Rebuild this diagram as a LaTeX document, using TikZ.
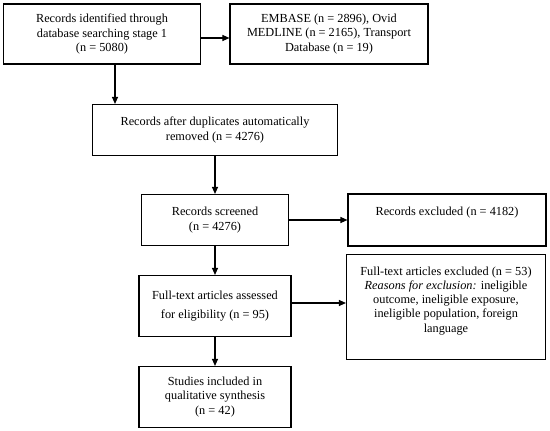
\documentclass[tikz,border=0pt]{standalone}
\usepackage{fontspec}
\setmainfont{Liberation Serif}
\usetikzlibrary{arrows.meta, positioning}
\tikzset{%
  >={Triangle[width=6pt,length=7pt]},
  % Specifications for style of nodes:
            base/.style = {rectangle, draw=black, align=center,
                           inner sep=3pt, text centered,
                           font=\fontsize{12.3}{14.3}\selectfont},
            sourceBox/.style = {base, minimum width=197pt, minimum height=60pt},
            stageBox/.style = {base, minimum width=152pt, minimum height=61pt},
            excludeBox/.style = {base, inner ysep=12pt},
 }

\begin{document}
\begin{tikzpicture}[node distance=90pt, line width=1.1pt]
  \useasboundingbox (-102pt,34pt) rectangle (448pt,-397pt);
  % Specification of nodes (position, etc.)
     \node (ident) [sourceBox] {Records identified through\\database searching stage 1\\(n = 5080)};
     \node (dbs) [sourceBox, right of=ident, xshift=137pt, minimum width=198pt] {EMBASE (n = 2896), Ovid\\MEDLINE (n = 2165), Transport\\Database (n = 19)};

     \node (dupl) [base, below of=ident, xshift=113pt, yshift=-6pt, minimum width=245pt, minimum height=51pt] {Records after duplicates automatically\\removed (n = 4276)};
     \node (screened) [base, below of=dupl, minimum width=147pt, minimum height=51pt] {Records screened\\(n = 4276)};
     \node (excl) [excludeBox, right of=screened, xshift=142pt, inner ysep=13pt] {\parbox[c][26pt][t]{192pt}{\centering Records excluded (n = 4182)}};

     \node (fulltext) [stageBox, below of=screened, yshift=4pt] {Full-text articles assessed\\[4pt]for eligibility (n = 95)};
     \node (excl53) [excludeBox, right of=fulltext, xshift=141pt, yshift=-1pt] {\parbox[c][81pt][t]{193pt}{\centering Full-text articles excluded (n = 53)\\\textit{Reasons for exclusion:} ineligible\\outcome, ineligible exposure,\\ineligible population, foreign\\language}};
     \node (incl) [stageBox, below of=fulltext, yshift=-1pt] {Studies included in\\qualitative synthesis\\(n = 42)};


     \draw[->] ([yshift=-4pt]ident.east) -- ([yshift=-4pt]ident.east -| dbs.west);
     \draw[->] ([xshift=13pt]ident.south) -- ([xshift=13pt]ident.south |- dupl.north);
     \draw[->] (dupl.south) -- (screened.north);
     \draw[->] (screened.east) -- (excl.west);
     \draw[->] (screened.south) -- (fulltext.north);
     \draw[->] ([yshift=3pt]fulltext.east) -- ([yshift=3pt]fulltext.east -| excl53.west);
     \draw[->] (fulltext.south) -- (incl.north);

   \end{tikzpicture}
\end{document}
